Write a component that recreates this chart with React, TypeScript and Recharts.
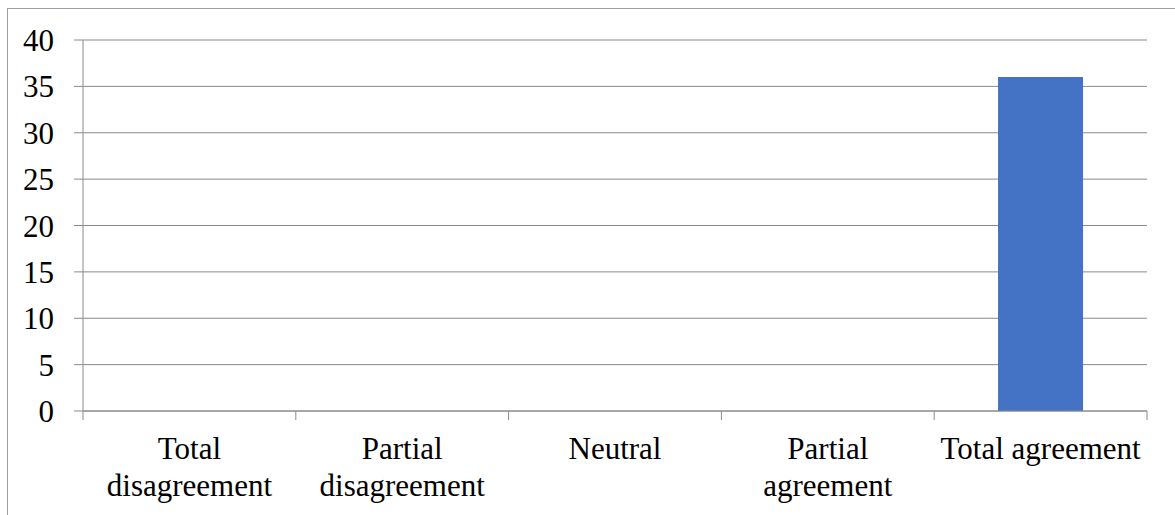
import { BarChart, Bar, XAxis, YAxis, CartesianGrid } from "recharts";

const categories = [
  "Total disagreement",
  "Partial disagreement",
  "Neutral",
  "Partial agreement",
  "Total agreement",
];
// how each category label breaks onto lines under the axis
const categoryLines = [
  ["Total", "disagreement"],
  ["Partial", "disagreement"],
  ["Neutral"],
  ["Partial", "agreement"],
  ["Total agreement"],
];
const responses = [0, 0, 0, 0, 36];
const yTicks = [0, 5, 10, 15, 20, 25, 30, 35, 40];

const data = categories.map((name, i) => ({ name, value: responses[i] }));

const FONT = '"Liberation Serif", "Times New Roman", serif';
const GRID = "#8a8a8a";
const X_TICK_SIZE = 9;
const X_TICK_MARGIN = 17;
const BAND = 1064 / categories.length;

// category label plus the boundary tick marks between bands
const CategoryTick = (props: any) => {
  const { x, y, index, visibleTicksCount, payload } = props;
  const half = payload?.offset || BAND / 2;
  const top = y - X_TICK_MARGIN - X_TICK_SIZE;
  const lines = categoryLines[index] || [payload.value];
  return (
    <g>
      <line x1={x - half} x2={x - half} y1={top} y2={top + X_TICK_SIZE} stroke={GRID} />
      {index === visibleTicksCount - 1 && (
        <line x1={x + half} x2={x + half} y1={top} y2={top + X_TICK_SIZE} stroke={GRID} />
      )}
      <text
        x={x}
        y={y + 22}
        textAnchor="middle"
        fill="#000"
        style={{ fontFamily: FONT, fontSize: 31 }}
      >
        {lines.map((line: string, i: number) => (
          <tspan key={i} x={x} dy={i === 0 ? 0 : 37}>
            {line}
          </tspan>
        ))}
      </text>
    </g>
  );
};

const ValueTick = (props: any) => {
  const { x, y, payload } = props;
  return (
    <text
      x={x}
      y={y + 11}
      textAnchor="end"
      fill="#000"
      style={{ fontFamily: FONT, fontSize: 31 }}
    >
      {payload.value}
    </text>
  );
};

export default function App() {
  return (
    <div
      style={{
        position: "absolute",
        left: 0,
        top: 0,
        width: 1175,
        height: 515,
        overflow: "hidden",
        background: "#fff",
      }}
    >
      <div
        style={{
          position: "absolute",
          left: 7,
          top: 8,
          width: 1200,
          height: 540,
          border: "1px solid #a0a0a0",
        }}
      />
      <div style={{ position: "absolute", left: 0, top: 0 }}>
        <BarChart
          width={1175}
          height={515}
          data={data}
          margin={{ top: 40, right: 28, left: 0, bottom: 0 }}
          barCategoryGap="30%"
        >
          <CartesianGrid vertical={false} stroke={GRID} />
          <XAxis
            dataKey="name"
            height={104}
            interval={0}
            axisLine={{ stroke: GRID }}
            tickLine={false}
            tickSize={X_TICK_SIZE}
            tickMargin={X_TICK_MARGIN}
            tick={<CategoryTick />}
          />
          <YAxis
            width={83}
            domain={[0, 40]}
            ticks={yTicks}
            interval={0}
            axisLine={{ stroke: GRID }}
            tickLine={{ stroke: GRID }}
            tickSize={9}
            tickMargin={20}
            tick={<ValueTick />}
          />
          <Bar dataKey="value" fill="#4472C4" isAnimationActive={false} />
        </BarChart>
      </div>
    </div>
  );
}
